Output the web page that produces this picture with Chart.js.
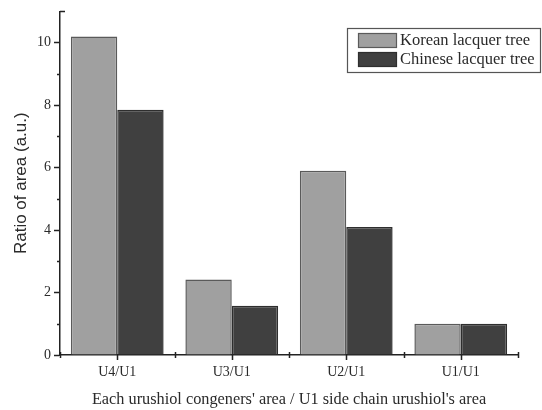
<!DOCTYPE html>
<html lang="en">
<head>
  <meta charset="UTF-8">
  <title>Urushiol ratio</title>
  <script src="https://cdn.jsdelivr.net/npm/chart.js"></script>
  <style>
    html, body { margin: 0; padding: 0; background: #fff; }
    #wrap { width: 542px; height: 410px; position: relative; }
  </style>
</head>
<body>
  <div id="wrap"><canvas id="grafico"></canvas></div>

<script>
  // dados
  const categorias = ['U4/U1', 'U3/U1', 'U2/U1', 'U1/U1'];
  const coreana = [10.2, 2.42, 5.9, 1.0];
  const chinesa = [7.85, 1.58, 4.1, 1.0];
  const nomesSeries = ['Korean lacquer tree', 'Chinese lacquer tree'];
  const coresSeries = ['#a0a0a0', '#404040'];
  const bordasSeries = ['#5a5a5a', '#2e2e2e'];

  const serif = "'Liberation Serif', 'DejaVu Serif', serif";
  const sans = "'Liberation Sans', Arial, sans-serif";
  const corEixo = '#222';
  const corTexto = '#2a2a2a';

  // ticks menores e legenda desenhados a mao
  const extras = {
    id: 'extras',
    afterDraw(chart) {
      const ctx = chart.ctx;
      const x = chart.scales.x;
      const y = chart.scales.y;
      ctx.save();
      ctx.strokeStyle = corEixo;
      ctx.lineWidth = 1.5;
      ctx.beginPath();
      // y minor ticks
      for (let v = 1; v <= 9; v += 2) {
        const py = Math.round(y.getPixelForValue(v)) + 0.5;
        ctx.moveTo(y.right - 3, py);
        ctx.lineTo(y.right, py);
      }
      // stub no topo
      const top = y.getPixelForValue(11);
      ctx.moveTo(y.right, top);
      ctx.lineTo(y.right + 5, top);
      // x ticks no centro das categorias
      for (let i = 0; i < categorias.length; i++) {
        const px = Math.round(x.getPixelForValue(i)) + 0.5;
        ctx.moveTo(px, x.top);
        ctx.lineTo(px, x.top + 5);
      }
      // ticks nas divisas (cruzando o eixo)
      for (let i = 0; i <= categorias.length; i++) {
        const px = Math.round(chart.chartArea.left + i * (chart.chartArea.right - chart.chartArea.left) / categorias.length) + 0.5;
        ctx.moveTo(px, x.top - 3);
        ctx.lineTo(px, x.top + 3);
      }
      ctx.stroke();

      // legenda
      const lx = 347, ly = 28, lw = 193, lh = 44;
      ctx.fillStyle = '#fff';
      ctx.fillRect(lx, ly, lw, lh);
      ctx.strokeStyle = '#555';
      ctx.lineWidth = 1.2;
      ctx.strokeRect(lx + 0.5, ly + 0.5, lw, lh);
      ctx.font = '16.5px ' + serif;
      ctx.textBaseline = 'middle';
      for (let i = 0; i < nomesSeries.length; i++) {
        const ry = ly + 5 + i * 19;
        ctx.fillStyle = coresSeries[i];
        ctx.fillRect(358, ry, 38, 14);
        ctx.strokeStyle = bordasSeries[i];
        ctx.strokeRect(358.5, ry + 0.5, 38, 14);
        ctx.fillStyle = corTexto;
        ctx.fillText(nomesSeries[i], 400, ry + 7.5);
      }
      ctx.restore();
    }
  };

  const config = {
    type: 'bar',
    data: {
      labels: categorias,
      datasets: [
        {
          label: nomesSeries[0],
          data: coreana,
          backgroundColor: coresSeries[0],
          borderColor: bordasSeries[0],
          borderWidth: 1.5,
          categoryPercentage: 0.81,
          barPercentage: 1.0
        },
        {
          label: nomesSeries[1],
          data: chinesa,
          backgroundColor: coresSeries[1],
          borderColor: bordasSeries[1],
          borderWidth: 1.5,
          categoryPercentage: 0.81,
          barPercentage: 1.0
        }
      ]
    },
    options: {
      responsive: true,
      maintainAspectRatio: false,
      animation: false,
      layout: { padding: { top: 8, right: 24, left: 0, bottom: 0 } },
      plugins: {
        legend: { display: false },
        tooltip: { enabled: false }
      },
      scales: {
        x: {
          grid: { display: false, drawTicks: false },
          border: { display: true, color: corEixo, width: 1.5 },
          ticks: {
            color: corTexto,
            font: { family: serif, size: 14 },
            padding: 9
          },
          title: {
            display: true,
            text: "Each urushiol congeners' area / U1 side chain urushiol's area",
            color: corTexto,
            font: { family: serif, size: 16.3 },
            padding: { top: 1, bottom: 0 }
          },
          afterFit(scale) { scale.height = 55; }
        },
        y: {
          min: 0,
          max: 11,
          grid: { drawOnChartArea: false, drawTicks: true, tickLength: 6, tickColor: corEixo, tickWidth: 1.5 },
          border: { display: true, color: corEixo, width: 1.5 },
          ticks: {
            stepSize: 2,
            includeBounds: false,
            color: corTexto,
            font: { family: serif, size: 14 },
            padding: 3
          },
          title: {
            display: true,
            text: 'Ratio of area (a.u.)',
            color: corTexto,
            font: { family: sans, size: 17 },
            padding: { top: 11, bottom: 4 }
          },
          afterFit(scale) { scale.width = 60; }
        }
      }
    },
    plugins: [extras]
  };

  new Chart(document.getElementById('grafico'), config);
</script>
</body>
</html>
